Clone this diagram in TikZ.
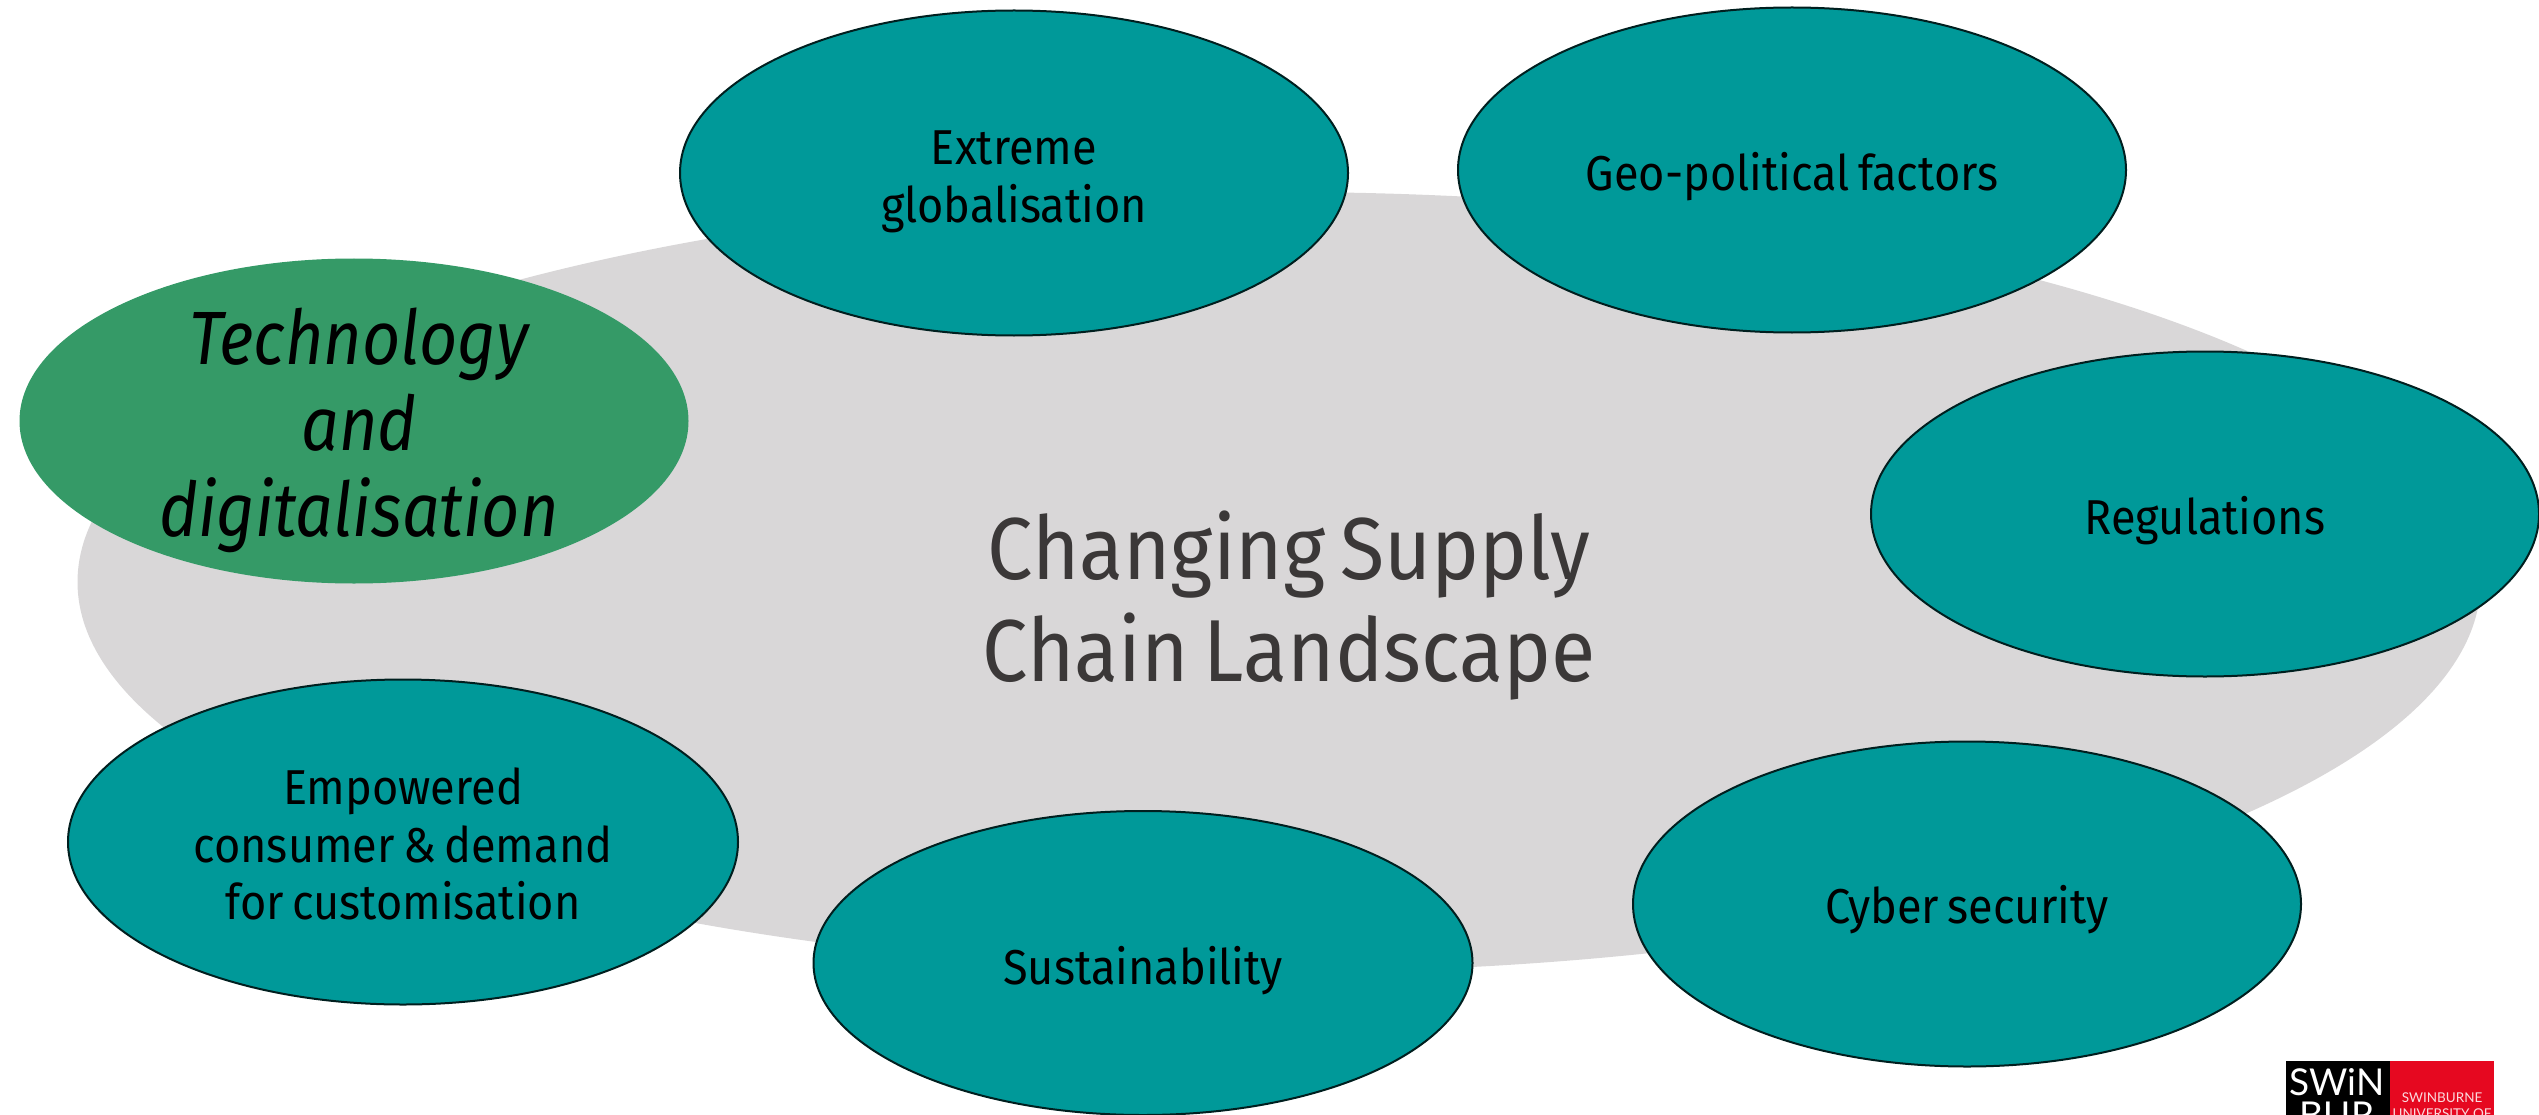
\documentclass[tikz,border=0pt]{standalone}
\usepackage{fontspec}
\usetikzlibrary{shapes.geometric}
\setmainfont{Fira Sans}[FakeStretch=0.92,WordSpace=0.7]
\newfontfamily\condit{Fira Sans}[ItalicFont=* Italic,FakeStretch=0.88]
\newfontfamily\logof{Lato}
\definecolor{teal1}{HTML}{009999}
\definecolor{green1}{HTML}{359A67}
\definecolor{grey1}{HTML}{D9D7D8}
\definecolor{logored}{HTML}{E60820}
\definecolor{txt1}{HTML}{3B3838}
\tikzset{
  x=1pt,y=-1pt,
  bub/.style={ellipse,draw=black!80!teal1,line width=2pt,fill=teal1,inner sep=0pt,minimum width=668pt,minimum height=325pt},
  gbub/.style={ellipse,fill=green1,inner sep=0pt,minimum width=669pt,minimum height=325pt},
  bubtxt/.style={text=black,align=center,inner sep=0pt,font=\fontsize{49}{57.5}\selectfont},
  gtxt/.style={text=black,align=center,inner sep=0pt,font=\condit\itshape\fontsize{75.5}{86}\selectfont},
}
\begin{document}
\begin{tikzpicture}
\useasboundingbox (0,0) rectangle (2539,1115);
\clip (0,0) rectangle (2539,1115);
\node[ellipse,fill=grey1,inner sep=0pt,minimum width=2403pt,minimum height=780pt] (bg) at (1279,582) {};
\node[align=center,text=txt1,inner sep=0pt,font=\fontsize{88}{102}\selectfont] (title) at (1289,606) {Changing Supply\\Chain Landscape};
\node[bub] (glob) at (1014,173) {};
\node[bubtxt] (globt) at ([yshift=-9pt]glob.center) {Extreme\\globalisation};
\node[bub] (geo) at (1792,170) {};
\node[bubtxt] (geot) at ([yshift=-7pt]geo.center) {Geo-political factors};
\node[bub] (reg) at (2205,514) {};
\node[bubtxt] (regt) at ([yshift=-7pt]reg.center) {Regulations};
\node[bub] (cyb) at (1967,904) {};
\node[bubtxt] (cybt) at ([yshift=-6pt]cyb.center) {Cyber security};
\node[bub,minimum width=659pt,minimum height=304pt] (sus) at (1143,963) {};
\node[bubtxt] (sust) at ([yshift=-8pt]sus.center) {Sustainability};
\node[bub,minimum width=670pt] (emp) at (403,842) {};
\node[bubtxt] (empt) at ([yshift=-2pt]emp.center) {Empowered\\consumer \& demand\\for customisation};
\node[gbub] (tech) at (354,421) {};
\node[gtxt] (techt) at ([xshift=5pt,yshift=-9pt]tech.center) {Technology\\and\\digitalisation};
\fill[black] (2286,1061) rectangle (2390,1115);
\fill[logored] (2390,1061) rectangle (2494,1115);
\node[text=white,inner sep=0pt,font=\logof\fontsize{37}{33}\selectfont,align=center,anchor=base] (logoa) at (2337,1128) {SWiN\\BUR};
\node[text=white!85!logored,inner sep=0pt,font=\logof\fontsize{13.5}{16}\selectfont,align=center,anchor=base] (logob) at (2442,1118) {SWINBURNE\\UNIVERSITY OF};
\end{tikzpicture}
\end{document}
